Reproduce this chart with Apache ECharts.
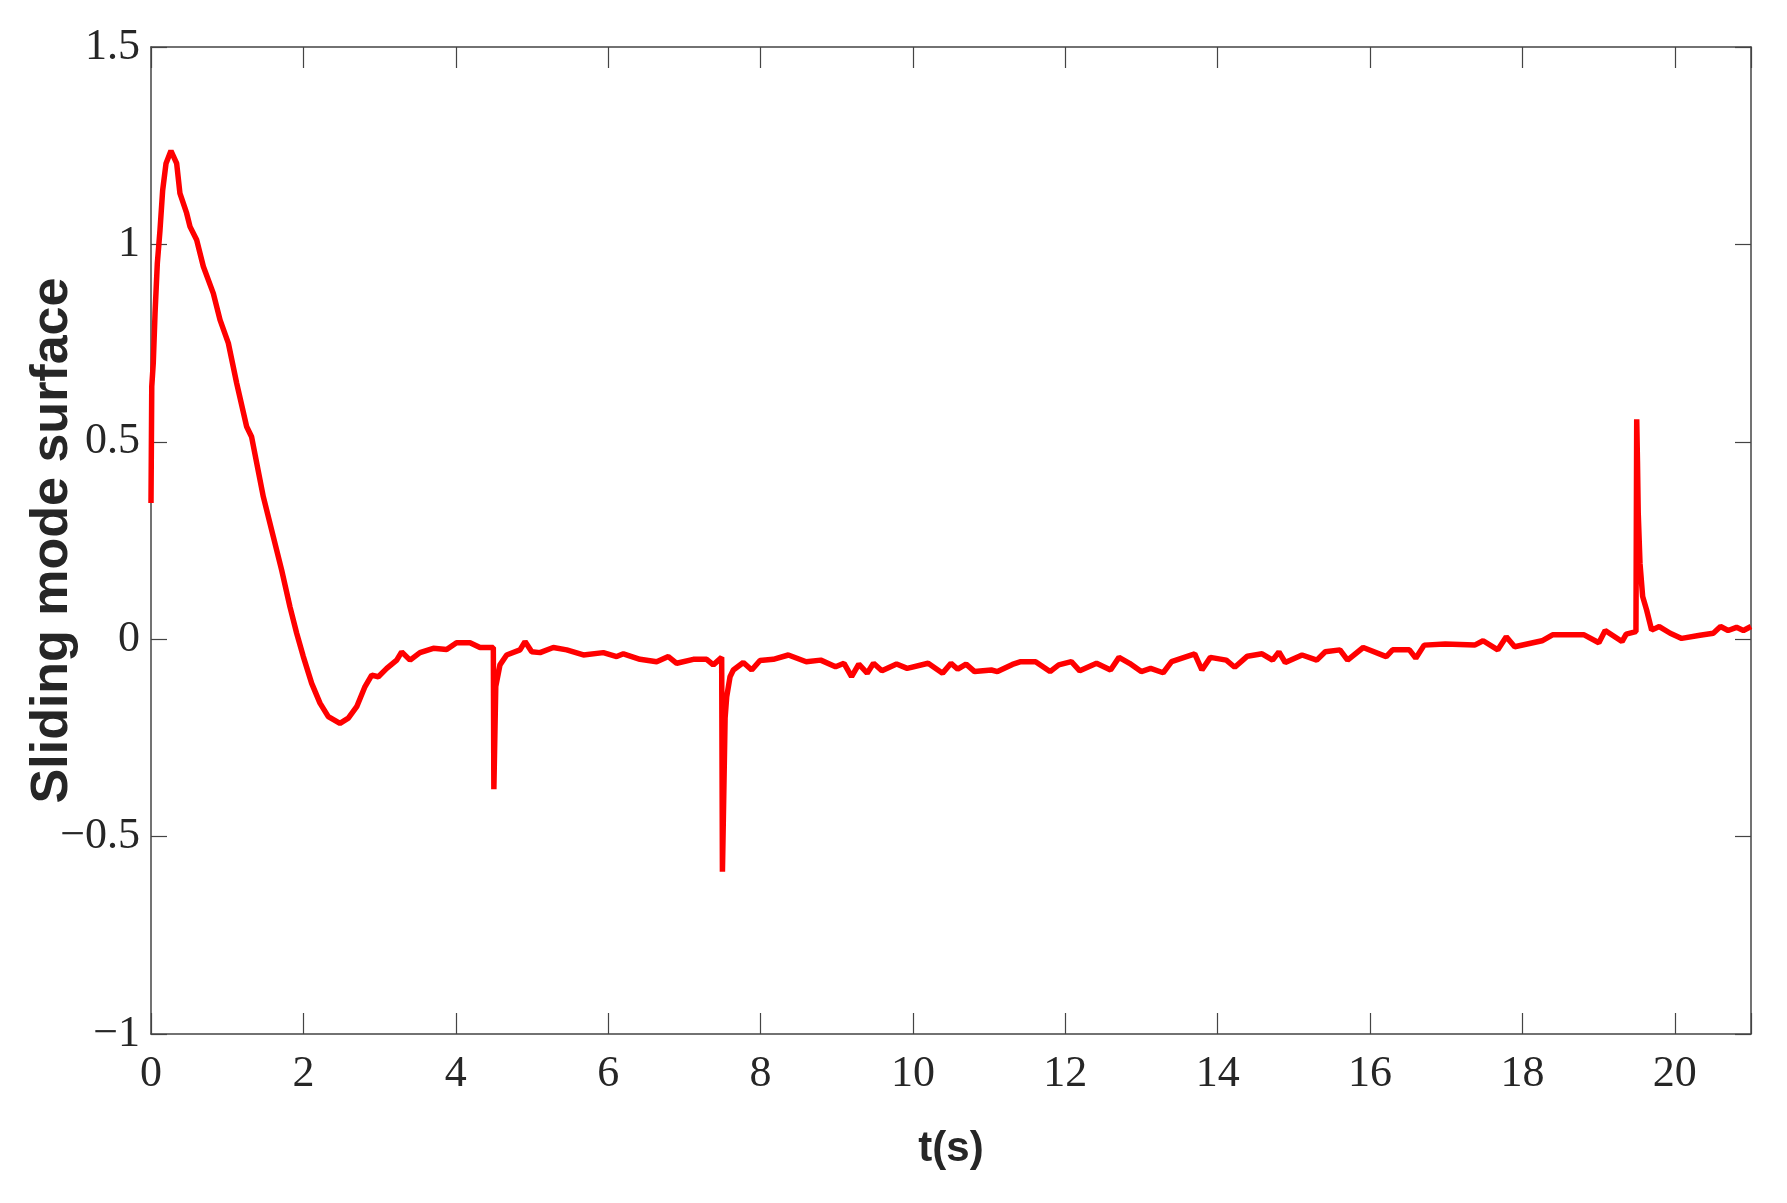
<!DOCTYPE html>
<html>
<head>
<meta charset="utf-8">
<script src="https://cdn.jsdelivr.net/npm/echarts@6/dist/echarts.min.js"></script>
<style>
  html, body { margin: 0; padding: 0; background: #fff; }
  #chart { width: 1787px; height: 1203px; }
</style>
</head>
<body>
<div id="chart"></div>
<script>
// time (s)
var timeData = [
  0, 0.01, 0.03, 0.053, 0.083, 0.118, 0.153, 0.197, 0.262, 0.337, 0.38, 0.468, 0.512, 0.6, 0.687,
  0.818, 0.906, 1.015, 1.125, 1.256, 1.32, 1.474, 1.605, 1.715, 1.824, 1.912, 1.999, 2.109, 2.218,
  2.327, 2.48, 2.59, 2.7, 2.809, 2.897, 2.984, 3.094, 3.225, 3.29, 3.4, 3.53, 3.705, 3.88, 4.01,
  4.187, 4.318, 4.493, 4.5, 4.51, 4.525, 4.58, 4.668, 4.843, 4.909, 4.997, 5.106, 5.28, 5.456,
  5.675, 5.937, 6.112, 6.2, 6.418, 6.637, 6.79, 6.9, 7.118, 7.293, 7.38, 7.49, 7.5, 7.51, 7.535,
  7.556, 7.6, 7.643, 7.774, 7.884, 7.993, 8.168, 8.365, 8.6, 8.79, 8.985, 9.096, 9.195, 9.29, 9.4,
  9.483, 9.593, 9.786, 9.925, 10.2, 10.39, 10.5, 10.588, 10.698, 10.81, 11.03, 11.11, 11.306,
  11.416, 11.61, 11.8, 11.914, 12.08, 12.19, 12.41, 12.594, 12.705, 12.843, 12.997, 13.12, 13.285,
  13.395, 13.699, 13.793, 13.904, 14.113, 14.224, 14.39, 14.583, 14.721, 14.804, 14.887, 15.108,
  15.301, 15.412, 15.605, 15.705, 15.91, 16.213, 16.296, 16.517, 16.6, 16.71, 16.987, 17.373,
  17.484, 17.677, 17.788, 17.898, 18.257, 18.395, 18.81, 19.003, 19.086, 19.307, 19.362, 19.49,
  19.5, 19.51, 19.52, 19.543, 19.578, 19.63, 19.696, 19.796, 19.94, 20.09, 20.33, 20.505, 20.6,
  20.7, 20.81, 20.9, 21
];
// sliding mode surface value
var surfaceData = [
  0.345, 0.64, 0.70, 0.825, 0.952, 1.036, 1.137, 1.205, 1.237, 1.205, 1.129, 1.079, 1.045, 1.011, 0.944,
  0.876, 0.809, 0.75, 0.648, 0.538, 0.513, 0.361, 0.26, 0.175, 0.082, 0.015, -0.044, -0.112, -0.162,
  -0.196, -0.213, -0.2, -0.171, -0.12, -0.091, -0.095, -0.074, -0.053, -0.032, -0.053, -0.034, -0.023, -0.026, -0.009,
  -0.009, -0.021, -0.021, -0.38, -0.38, -0.12, -0.065, -0.04, -0.027, -0.006, -0.032, -0.034, -0.021, -0.027,
  -0.04, -0.034, -0.044, -0.037, -0.051, -0.057, -0.044, -0.061, -0.051, -0.051, -0.065, -0.046, -0.589, -0.589, -0.2,
  -0.146, -0.095, -0.078, -0.059, -0.078, -0.054, -0.051, -0.04, -0.057, -0.053, -0.07, -0.061, -0.095, -0.063, -0.086,
  -0.061, -0.08, -0.063, -0.074, -0.061, -0.086, -0.061, -0.076, -0.063, -0.082, -0.078, -0.082, -0.064,
  -0.057, -0.057, -0.082, -0.065, -0.057, -0.08, -0.061, -0.078, -0.046, -0.061, -0.082, -0.074, -0.085,
  -0.057, -0.037, -0.078, -0.046, -0.053, -0.071, -0.043, -0.037, -0.053, -0.032, -0.059, -0.04,
  -0.053, -0.032, -0.027, -0.053, -0.021, -0.044, -0.027, -0.027, -0.048, -0.015, -0.012, -0.015,
  -0.004, -0.027, 0.006, -0.019, -0.004, 0.011, 0.011, -0.009, 0.022, -0.006, 0.013, 0.019,
  0.557, 0.45, 0.319, 0.192, 0.108, 0.074, 0.023, 0.032, 0.015, 0.002, 0.01, 0.015, 0.032,
  0.022, 0.03, 0.022, 0.032
];
var xTicks = { min: 0, max: 21, step: 2 };
var yTicks = { min: -1, max: 1.5, step: 0.5 };

var points = timeData.map(function (t, i) { return [t, surfaceData[i]]; });

var axisColor = '#444444';
var textColor = '#262626';

function yFmt(v) {
  var s = String(Math.round(v * 10) / 10);
  return s.replace('-', '\u2212');
}

function frameAxis(pos, len) {
  // mirrored axis on the far side: line and inward ticks only
  return {
    type: 'value', position: pos,
    axisLine: { show: true, onZero: false, lineStyle: { color: axisColor, width: 1.5 } },
    axisTick: { show: true, inside: true, length: len, lineStyle: { color: axisColor, width: 1.2 } },
    axisLabel: { show: false },
    splitLine: { show: false }
  };
}

var topAxis = frameAxis('top', 21);
topAxis.min = xTicks.min; topAxis.max = xTicks.max; topAxis.interval = xTicks.step;
var rightAxis = frameAxis('right', 16);
rightAxis.min = yTicks.min; rightAxis.max = yTicks.max; rightAxis.interval = yTicks.step;

var chart = echarts.init(document.getElementById('chart'));
chart.setOption({
  animation: false,
  backgroundColor: '#ffffff',
  grid: { left: 151, right: 36, top: 47, bottom: 169, containLabel: false, outerBoundsMode: 'none' },
  xAxis: [
    {
      type: 'value', position: 'bottom',
      min: xTicks.min, max: xTicks.max, interval: xTicks.step,
      name: 't(s)', nameLocation: 'middle', nameGap: 94, nameMoveOverlap: false,
      nameTextStyle: { fontFamily: 'Liberation Sans', fontWeight: 'bold', fontSize: 42, color: textColor },
      axisLine: { show: true, onZero: false, lineStyle: { color: axisColor, width: 1.5 } },
      axisTick: { show: true, inside: true, length: 21, lineStyle: { color: axisColor, width: 1.2 } },
      axisLabel: {
        margin: 18, fontFamily: 'Liberation Serif', fontSize: 44, color: textColor,
        formatter: function (v) { return v > 20 ? '' : String(v); }
      },
      splitLine: { show: false }
    },
    topAxis
  ],
  yAxis: [
    {
      type: 'value', position: 'left',
      min: yTicks.min, max: yTicks.max, interval: yTicks.step,
      name: 'Sliding mode surface', nameLocation: 'middle', nameGap: 72, nameMoveOverlap: false,
      nameTextStyle: { fontFamily: 'Liberation Sans', fontWeight: 'bold', fontSize: 52, color: textColor },
      axisLine: { show: true, onZero: false, lineStyle: { color: axisColor, width: 1.5 } },
      axisTick: { show: true, inside: true, length: 16, lineStyle: { color: axisColor, width: 1.2 } },
      axisLabel: { margin: 11, fontFamily: 'Liberation Serif', fontSize: 44, color: textColor, formatter: yFmt },
      splitLine: { show: false }
    },
    rightAxis
  ],
  series: [
    {
      type: 'line',
      xAxisIndex: 0, yAxisIndex: 0,
      data: points,
      showSymbol: false,
      lineStyle: { color: '#ff0000', width: 5.5 },
      silent: true
    }
  ]
});
</script>
</body>
</html>
